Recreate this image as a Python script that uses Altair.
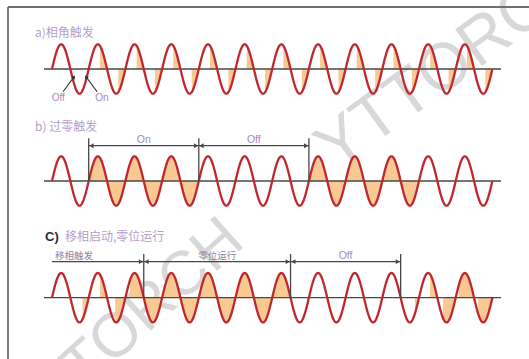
import numpy as np
import pandas as pd
import altair as alt

# ---- data -----------------------------------------------------------------
CYCLES = 12
PANELS = ["a", "b", "c"]

# conduction onset inside each half cycle, in degrees; None = thyristor blocked
FIRE_A = [None, None] + [110] * 22
FIRE_B = [None, None] + [0] * 6 + [None] * 6 + [0] * 6 + [None] * 4
FIRE_C = [None, 120, 110, 80, 45] + [0] * 8 + [None] * 6 + [140, 108, 55, 30, 40]

# dimension spans, in half cycles: (start, end, label)
SPANS_B = [(2, 8, "On"), (8, 14, "Off")]
SPANS_C = [(0, 5, "移相触发"), (5, 13, "零位运行"), (13, 19, "Off")]

TITLE_A = "a)相角触发"
TITLE_B = "b) 过零触发"
TITLE_C_TAG = "C)"
TITLE_C = "移相启动,零位运行"

# switching points marked in panel a: (label, tip cycle, tip level)
MARKS_A = [("Off", 0.60, -0.32), ("On", 0.93, -0.32)]

# ---- layout ---------------------------------------------------------------
W, H = 529, 359
X0_PX, CYCLE_PX = 52.0, 36.7        # where the waves start, width of one cycle
AMP_PX = 24.7                        # amplitude of the waves
AXIS_PX = {"a": 69.0, "b": 181.0, "c": 297.7}
BASE = {p: (AXIS_PX["a"] - v) / AMP_PX for p, v in AXIS_PX.items()}

x_scale = alt.Scale(domain=[-X0_PX / CYCLE_PX, (W - X0_PX) / CYCLE_PX], nice=False, zero=False)
y_scale = alt.Scale(domain=[-(H - AXIS_PX["a"]) / AMP_PX, AXIS_PX["a"] / AMP_PX], nice=False, zero=False)

RED = "#c0282f"
FILL = "#f8c993"
INK = "#474747"
TITLE_COLOR = "#b49fca"
LABEL_COLOR = "#a28bbb"


def X(field):
    return alt.X(field, type="quantitative", scale=x_scale, axis=None)


def Y(field):
    return alt.Y(field, type="quantitative", scale=y_scale, axis=None)


# ---- waves and conduction areas --------------------------------------------
t = np.linspace(0, CYCLES, CYCLES * 400 + 1)
frames = []
for p, fire in zip(PANELS, [FIRE_A, FIRE_B, FIRE_C]):
    s = np.sin(2 * np.pi * t)
    half = np.minimum((t * 2).astype(int), 2 * CYCLES - 1)
    phase = (t * 2 - half) * 180
    on = np.array([fire[h] is not None and ph >= fire[h] for h, ph in zip(half, phase)])
    frames.append(pd.DataFrame({
        "panel": p, "t": t,
        "y": BASE[p] + s,
        "yf": BASE[p] + np.where(on, s, 0.0),
        "base": BASE[p],
    }))
wave = pd.concat(frames, ignore_index=True)

area = alt.Chart(wave).mark_area(color=FILL, opacity=1).encode(
    x=X("t"), y=Y("yf"), y2="base", detail="panel:N")
line = alt.Chart(wave).mark_line(color=RED, strokeWidth=2.3).encode(
    x=X("t"), y=Y("y"), detail="panel:N")

axes_df = pd.DataFrame({"panel": PANELS, "t0": -8 / CYCLE_PX, "t1": 449 / CYCLE_PX,
                        "base": [BASE[p] for p in PANELS]})
axes = alt.Chart(axes_df).mark_rule(color=INK, strokeWidth=1.3).encode(
    x=X("t0"), x2="t1", y=Y("base"))

# ---- dimension lines ---------------------------------------------------------
DIM_Y = {"b": 1.43, "c": 1.46}
TOP_Y = {"b": 1.73, "c": 1.77}
vert_rows, dim_rows, head_rows, lab_rows = [], [], [], []
for p, spans in [("b", SPANS_B), ("c", SPANS_C)]:
    yd = BASE[p] + DIM_Y[p]
    for a, b, lab in spans:
        ta, tb = a / 2, b / 2
        dim_rows.append({"t0": ta, "t1": tb, "y": yd})
        head_rows.append({"t": tb - 0.075, "y": yd, "shape": "triangle-right"})
        if a > 0:
            head_rows.append({"t": ta + 0.075, "y": yd, "shape": "triangle-left"})
        for tv in (ta, tb):
            if tv > 0:
                vert_rows.append({"t": tv, "y0": BASE[p], "y1": BASE[p] + TOP_Y[p]})
        if a == 0:
            lab_rows.append({"t": ta + 0.08, "y": yd + 0.1, "text": lab, "align": "left", "size": 9.5})
        else:
            lab_rows.append({"t": (ta + tb) / 2, "y": yd + 0.1, "text": lab, "align": "center",
                             "size": 10.5 if lab.isascii() else 9.5})

verts = alt.Chart(pd.DataFrame(vert_rows).drop_duplicates()).mark_rule(color=INK, strokeWidth=1.3).encode(
    x=X("t"), y=Y("y0"), y2="y1")
dims = alt.Chart(pd.DataFrame(dim_rows)).mark_rule(color=INK, strokeWidth=1.2).encode(
    x=X("t0"), x2="t1", y=Y("y"))
heads = alt.Chart(pd.DataFrame(head_rows)).mark_point(filled=True, size=24, color=INK, opacity=1).encode(
    x=X("t"), y=Y("y"), shape=alt.Shape("shape:N", scale=None))

lab_df = pd.DataFrame(lab_rows)
dim_text = []
for (al, sz), g in lab_df.groupby(["align", "size"]):
    font = "Liberation Sans" if sz > 10 else "Noto Sans CJK SC"
    dim_text.append(alt.Chart(g).mark_text(align=al, baseline="alphabetic", fontSize=sz,
                                           color=LABEL_COLOR if sz > 10 else "#8f80a3", font=font).encode(
        x=X("t"), y=Y("y"), text="text:N"))

# ---- switching arrows in panel a --------------------------------------------
arr_rows = []
for lab, tt, yy in MARKS_A:
    sign = -1 if lab == "Off" else 1
    tail_t, tail_y = tt + sign * 0.30, yy - 0.60
    dx_px = (tt - tail_t) * CYCLE_PX
    dy_px = (yy - tail_y) * AMP_PX
    ang = (np.degrees(np.arctan2(dx_px, dy_px)) + 360) % 360
    arr_rows.append({"lab": lab, "tip_t": tt, "tip_y": yy, "tail_t": tail_t, "tail_y": tail_y,
                     "lab_t": tail_t + sign * 0.13, "lab_y": tail_y - 0.24, "ang": ang})
arr_df = pd.DataFrame(arr_rows)
arr_lines = alt.Chart(arr_df).mark_rule(color="#333333", strokeWidth=1.1).encode(
    x=X("tail_t"), x2="tip_t", y=Y("tail_y"), y2="tip_y")
arr_heads = alt.Chart(arr_df).mark_point(filled=True, shape="triangle-up", size=18, color="#333333", opacity=1).encode(
    x=X("tip_t"), y=Y("tip_y"), angle=alt.Angle("ang:Q", scale=None))
arr_text = alt.Chart(arr_df).mark_text(fontSize=10, color=LABEL_COLOR, font="Liberation Sans",
                                       baseline="middle").encode(
    x=X("lab_t"), y=Y("lab_y"), text="lab:N")

# ---- panel titles -------------------------------------------------------------
title_df = pd.DataFrame([
    {"t": -17 / CYCLE_PX, "y": BASE["a"] + 1.46, "text": TITLE_A},
    {"t": -17 / CYCLE_PX, "y": BASE["b"] + 2.19, "text": TITLE_B},
    {"t": 13 / CYCLE_PX, "y": BASE["c"] + 2.46, "text": TITLE_C},
])
titles = alt.Chart(title_df).mark_text(align="left", baseline="middle", fontSize=12,
                                       color=TITLE_COLOR, font="Noto Sans CJK SC").encode(
    x=X("t"), y=Y("y"), text="text:N")
tag_df = pd.DataFrame([{"t": -7 / CYCLE_PX, "y": BASE["c"] + 2.46, "text": TITLE_C_TAG}])
tag = alt.Chart(tag_df).mark_text(align="left", baseline="middle", fontSize=13, fontWeight="bold",
                                  color="#2e2e2e", font="Liberation Sans").encode(
    x=X("t"), y=Y("y"), text="text:N")

# ---- frame and watermark ---------------------------------------------------------
one = pd.DataFrame({"k": [0]})
frame_left = alt.Chart(one).mark_rule(color="#707070", strokeWidth=1.8).encode(
    x=alt.value(8), y=alt.value(7), y2=alt.value(H))
frame_top = alt.Chart(one).mark_rule(color="#707070", strokeWidth=1.8).encode(
    x=alt.value(8), x2=alt.value(W), y=alt.value(7))
wm_top = alt.Chart(one).mark_text(text="YTTORCH", angle=324, fontSize=66, color="#d8d8d8",
                                  align="left", baseline="alphabetic", font="Liberation Sans").encode(
    x=alt.value(336), y=alt.value(172))
wm_bottom = alt.Chart(one).mark_text(text="YTTORCH", angle=318, fontSize=62, color="#d8d8d8",
                                     align="left", baseline="alphabetic", font="Liberation Sans").encode(
    x=alt.value(25), y=alt.value(444))

chart = alt.layer(
    wm_top, wm_bottom, frame_left, frame_top,
    area, axes, line, verts, dims, heads, *dim_text,
    arr_lines, arr_heads, arr_text, titles, tag,
).properties(
    width=W, height=H, padding=0,
    autosize=alt.AutoSizeParams(type="none"),
    background="white",
).configure_view(stroke=None)

chart.save("out.html", embed_options={"renderer": "svg", "actions": False})
